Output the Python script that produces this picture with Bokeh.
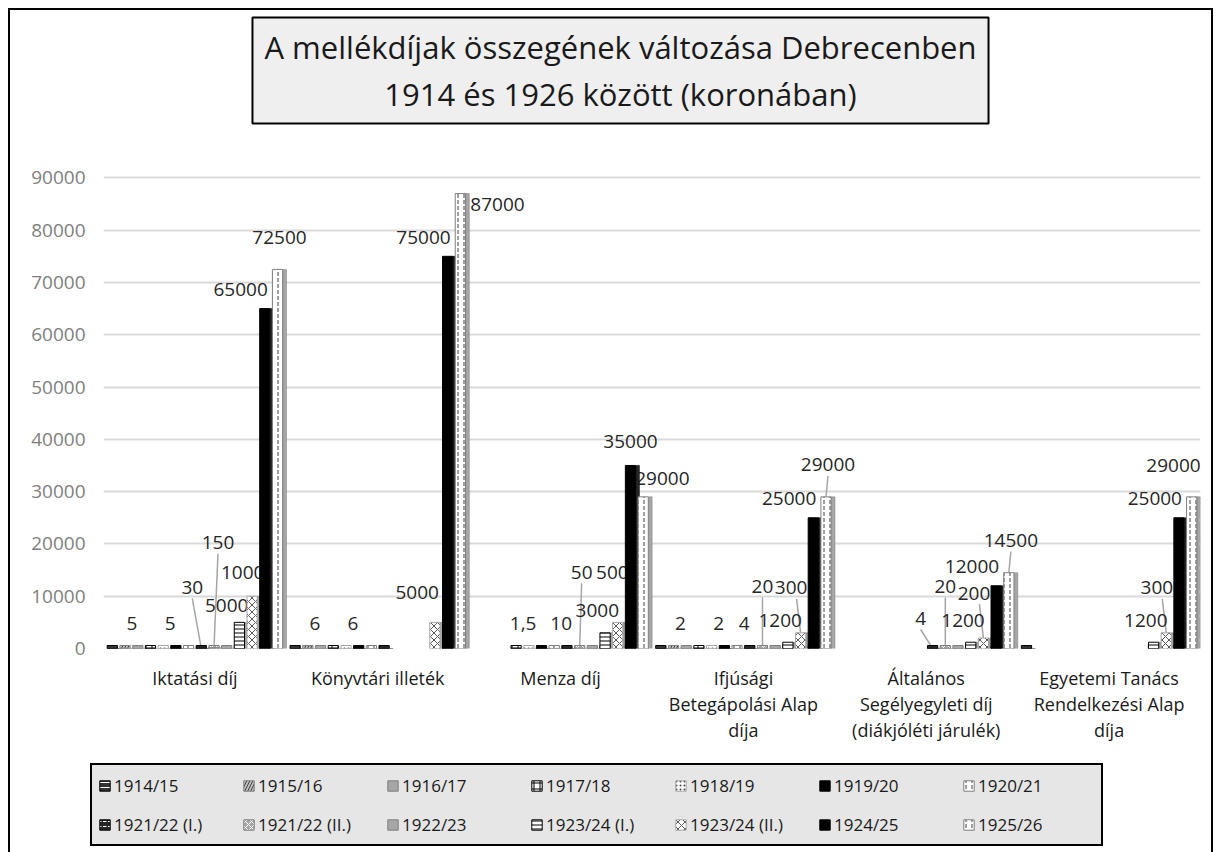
from bokeh.plotting import figure
from bokeh.models import (FactorRange, ColumnDataSource, Legend, LegendItem,
                          FixedTicker, Range1d, Label)
from bokeh.layouts import column, row
from bokeh.transform import dodge
from bokeh.embed import file_html
from bokeh.resources import INLINE
from bokeh.core.properties import value

# ---------------- data ----------------
categories = [
    "Iktatási díj",
    "Könyvtári illeték",
    "Menza díj",
    "Ifjúsági\nBetegápolási Alap\ndíja",
    "Általános\nSegélyegyleti díj\n(diákjóléti járulék)",
    "Egyetemi Tanács\nRendelkezési Alap\ndíja",
]
series = ["1914/15", "1915/16", "1916/17", "1917/18", "1918/19", "1919/20", "1920/21",
          "1921/22 (I.)", "1921/22 (II.)", "1922/23", "1923/24 (I.)", "1923/24 (II.)",
          "1924/25", "1925/26"]

# values per category, one entry per series (None = no bar)
iktatasi = [0, 5, 0, 0, 5, 0, 0, 30, 150, 0, 5000, 10000, 65000, 72500]
konyvtari = [0, 6, 0, 0, 6, 0, 0, 0, None, None, None, 5000, 75000, 87000]
menza = [None, None, None, 1.5, 0, 0, 10, 0, 50, 0, 3000, 5000, 35000, 29000]
ifjusagi = [0, 2, 0, 0, 2, 0, 4, 0, 20, 0, 1200, 3000, 25000, 29000]
altalanos = [None, None, None, None, None, None, None, 4, 20, 0, 1200, 2000, 12000, 14500]
egyetemi = [0, None, None, None, None, None, None, None, None, None, 1200, 3000, 25000, 29000]
table = [iktatasi, konyvtari, menza, ifjusagi, altalanos, egyetemi]

y_ticks = [0, 10000, 20000, 30000, 40000, 50000, 60000, 70000, 80000, 90000]

title_text = "A mellékdíjak összegének változása Debrecenben\n1914 és 1926 között (koronában)"

# ---------------- styles ----------------
FONT = "Open Sans"
fills = ["#333333", "#bfbfbf", "#a6a6a6", "white", "white", "black", "white",
         "#262626", "#a6a6a6", "#a6a6a6", "white", "white", "black", "white"]
lines = ["black", "#7f7f7f", "#7f7f7f", "black", "#a6a6a6", "black", "#7f7f7f",
         "black", "#7f7f7f", "#7f7f7f", "black", "#a6a6a6", "black", "#7f7f7f"]
hatches = ["-", "/", None, "+", ".", None, ":", '"', "x", None, "-", "x", None, ":"]
hatch_cols = ["white", "#404040", None, "black", "#404040", None, "#404040",
              "white", "white", None, "black", "#595959", None, "#404040"]
hatch_scales = [5, 6, 12, 6, 4, 12, 6, 5, 6, 12, 4, 7, 12, 6]

# data-label placement (align, x shift px, px above bar top): per series defaults ...
lab_default = (("center", 7, 25),) * 7 + (
    ("center", -12, 30), ("center", 0, 62), ("center", 0, 25),
    ("right", 14, 22), ("center", -4, 45), ("right", 3, 19), ("center", 2, 32))
# ... and labels moved by hand, as in the original (category index, series index)
lab_nudge = {
    (0, 7): ("center", -9, 61), (0, 8): ("center", 4, 105), (0, 10): ("right", 9, 17),
    (0, 11): ("center", -4, 24), (1, 11): ("right", 4, 30), (1, 13): ("left", 10, -11),
    (2, 8): ("center", 2, 76), (2, 11): ("center", 0, 50), (2, 12): ("center", 0, 24),
    (2, 13): ("left", -8, 18), (5, 13): ("right", 9, 31),
}
leaders = [(0, 7), (0, 8), (2, 8), (3, 8), (3, 11), (3, 13), (4, 7), (4, 8),
           (4, 11), (4, 13), (5, 11)]

STEP = 0.0695      # category units between neighbouring series
BAR_W = 0.056

W = 1201
FRAME_W = W - 93 - 11
FRAME_H = 502
CAT_PX = FRAME_W / len(categories)
Y_END = 96000
PX = Y_END / FRAME_H        # data units per screen pixel

# ---------------- title strip ----------------
tf = figure(width=W, height=136, x_range=Range1d(0, W), y_range=Range1d(0, 136),
            output_backend="svg", toolbar_location=None,
            x_axis_location=None, y_axis_location=None, min_border=0)
tf.outline_line_color = None
tf.grid.grid_line_color = None
tf.border_fill_color = "white"
tf.add_layout(Label(x=610, y=76, text=title_text, text_align="center",
                    text_baseline="middle", text_font=FONT, text_font_size="31px",
                    text_color="#1a1a1a", text_line_height=1.14,
                    background_fill_color="#efefef", background_fill_alpha=1,
                    border_line_color="black", border_line_width=2,
                    padding=dict(left=12, right=12, top=8, bottom=8)))

# ---------------- chart ----------------
p = figure(x_range=FactorRange(*categories, range_padding=0),
           y_range=Range1d(0, Y_END),
           width=W, height=FRAME_H + 105, output_backend="svg", toolbar_location=None,
           min_border_left=93, min_border_right=11, min_border_top=0,
           min_border_bottom=105)
p.outline_line_color = None
p.background_fill_color = "white"
p.border_fill_color = "white"

p.xgrid.grid_line_color = None
p.ygrid.grid_line_color = "#d9d9d9"
p.ygrid.grid_line_width = 2
p.yaxis.ticker = FixedTicker(ticks=y_ticks)
p.yaxis.axis_line_color = None
p.yaxis.major_tick_line_color = None
p.yaxis.minor_tick_line_color = None
p.yaxis.major_tick_out = 0
p.yaxis.major_label_standoff = 18
p.yaxis.major_label_text_font = FONT
p.yaxis.major_label_text_font_size = "19px"
p.yaxis.major_label_text_color = "#808080"

p.xaxis.axis_line_color = None
p.xaxis.major_tick_line_color = None
p.xaxis.major_tick_out = 0
p.xaxis.major_label_standoff = 17
p.xaxis.major_label_text_font = FONT
p.xaxis.major_label_text_font_size = "18px"
p.xaxis.major_label_text_color = "#1a1a1a"
p.xaxis.major_label_text_line_height = 1.1


def fmt(v):
    return str(int(v)) if float(v).is_integer() else str(v).replace(".", ",")


def bar_off(i):
    return (i - 6.5) * STEP


# leader lines and labels first (bars are drawn over them, as in the original)
for (c, i) in leaders:
    v = table[c][i]
    a, dx, dy = lab_nudge.get((c, i), lab_default[i])
    src = ColumnDataSource(dict(cat=[categories[c]], y0=[v], y1=[v + (dy - 11) * PX]))
    p.segment(x0=dodge("cat", bar_off(i), range=p.x_range), y0="y0",
              x1=dodge("cat", bar_off(i) + dx / CAT_PX, range=p.x_range), y1="y1",
              source=src, line_color="#a6a6a6", line_width=1.5)

for i, name in enumerate(series):
    groups = {}
    for c, (cat, row_) in enumerate(zip(categories, table)):
        v = row_[i]
        if v is None or v <= 0:
            continue
        key = lab_nudge.get((c, i), lab_default[i])
        groups.setdefault(key, []).append((cat, v, fmt(v)))
    for (a, dx, dy), rows in groups.items():
        src = ColumnDataSource(dict(cat=[r[0] for r in rows], val=[r[1] for r in rows],
                                    txt=[r[2] for r in rows]))
        p.text(x=dodge("cat", bar_off(i), range=p.x_range), y="val", text="txt",
               source=src, text_font=value(FONT), text_font_size="19px",
               text_color="#262626", text_align=a, text_baseline="middle",
               x_offset=dx, y_offset=-dy)


def bar_kw(i):
    kw = dict(fill_color=fills[i], line_color=lines[i], line_width=1)
    if hatches[i]:
        kw.update(hatch_pattern=hatches[i], hatch_color=hatch_cols[i],
                  hatch_scale=hatch_scales[i], hatch_weight=1)
    return kw


for i, name in enumerate(series):
    xs, ys = [], []
    for cat, row_ in zip(categories, table):
        v = row_[i]
        if v is not None:
            xs.append(cat); ys.append(v)
    src = ColumnDataSource(dict(cat=xs, val=ys))
    xd = dodge("cat", bar_off(i), range=p.x_range)
    kw = bar_kw(i)
    # flat slab on the floor (3D base of each bar)
    p.rect(x=xd, y=0, width=BAR_W, height=6, height_units="screen", source=src, **kw)
    # side face
    dark = fills[i] in ("black", "#262626", "#333333")
    p.vbar(x=dodge("cat", bar_off(i) + BAR_W / 2 + 0.011, range=p.x_range),
           top="val", width=0.02, source=src,
           fill_color="#262626" if dark else "#a6a6a6",
           line_color="black" if dark else "#7f7f7f", line_width=0.5)
    p.vbar(x=xd, top="val", width=BAR_W, source=src, **kw)

# ---------------- legend strip ----------------
lg = figure(width=W, height=99, x_range=Range1d(0, 1), y_range=Range1d(0, 1),
            output_backend="svg", toolbar_location=None,
            x_axis_location=None, y_axis_location=None,
            min_border_left=78, min_border_right=0, min_border_top=8, min_border_bottom=0)
lg.outline_line_color = None
lg.grid.grid_line_color = None
lg.background_fill_color = "white"
lg.border_fill_color = "white"
items = []
for i, name in enumerate(series):
    # legend-only renderer, its single point lies outside the visible range
    r = lg.vbar(x=[-5], top=[-5], width=0.1, **bar_kw(i))
    items.append(LegendItem(label=name, renderers=[r]))
legend = Legend(items=items, orientation="horizontal", ncols=7,
                location="top_left", margin=2,
                label_text_font=FONT, label_text_font_size="17px",
                label_text_color="#1a1a1a", glyph_width=13, glyph_height=13,
                label_standoff=3, label_width=117, spacing=11, padding=6,
                label_height=28,
                background_fill_color="#e6e6e6", background_fill_alpha=1,
                border_line_color="black", border_line_width=2, border_line_alpha=1)
lg.add_layout(legend, "center")

lay = column(row(tf), p, row(lg), spacing=0)
lay.styles = {"border": "2px solid black", "margin-left": "8px", "margin-top": "8px"}

open("out.html", "w").write(file_html(lay, INLINE))
